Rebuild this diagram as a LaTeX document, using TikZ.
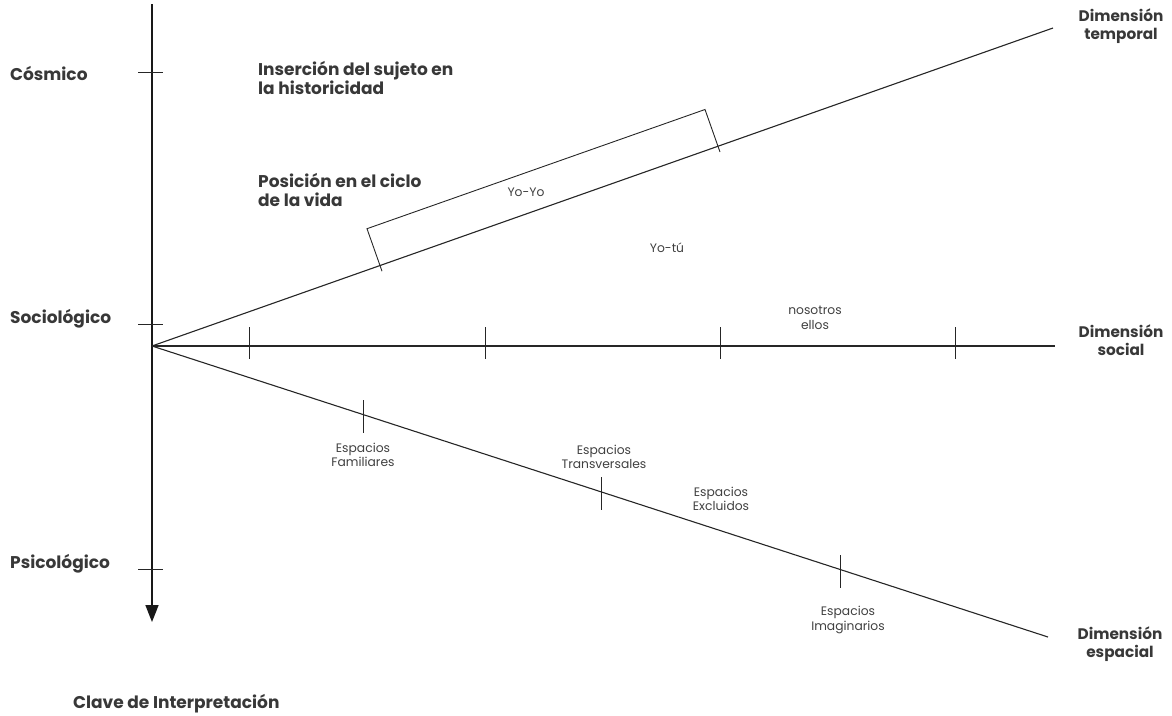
\documentclass[tikz,border=0pt]{standalone}
\usepackage{fontspec}
\setmainfont{Poppins}
\usetikzlibrary{arrows.meta}
\begin{document}
\begin{tikzpicture}[x=1pt,y=-1pt,
  axisln/.style={line width=1.1pt, draw=black!85},
  vaxis/.style={line width=1.7pt, draw=black!90},
  tickln/.style={line width=0.9pt, draw=black!85},
  biglbl/.style={font=\fontsize{17}{19.5}\selectfont\bfseries, text=black!78, align=left, inner sep=0pt},
  dimlbl/.style={font=\fontsize{15.3}{18}\selectfont\bfseries, text=black!78, align=center, inner sep=0pt},
  smalllbl/.style={font=\fontsize{12.3}{14.5}\selectfont, text=black!75, align=center, inner sep=0pt}]
\useasboundingbox (0,0) rectangle (1172,715);
% axes
\coordinate (O) at (152,346);
\coordinate (vtop) at (152,4);
\coordinate (vbot) at (152,622);
\coordinate (tend) at (1053,28);
\coordinate (send) at (1055,346);
\coordinate (eend) at (1048,637);
\draw[vaxis,-{Triangle[length=17pt,width=13pt]}] (vtop) -- (vbot);
\draw[axisln] (O) -- (tend);
\draw[axisln] (O) -- (send);
\draw[axisln] (O) -- (eend);
% vertical ticks
\coordinate (c1) at (138,72);  \coordinate (c2) at (163,72);
\coordinate (s1) at (138,324); \coordinate (s2) at (163,324);
\coordinate (p1) at (138,569); \coordinate (p2) at (163,569);
\draw[tickln] (c1) -- (c2);
\draw[tickln] (s1) -- (s2);
\draw[tickln] (p1) -- (p2);
% social ticks
\foreach \x [count=\i] in {249,485,720,955}{
  \coordinate (st\i a) at (\x,327);
  \coordinate (st\i b) at (\x,359);
  \draw[tickln] (st\i a) -- (st\i b);
}
% spatial ticks
\coordinate (e1a) at (363,400); \coordinate (e1b) at (363,433);
\coordinate (e2a) at (601,477); \coordinate (e2b) at (601,510);
\coordinate (e3a) at (840,555); \coordinate (e3b) at (840,588);
\draw[tickln] (e1a) -- (e1b);
\draw[tickln] (e2a) -- (e2b);
\draw[tickln] (e3a) -- (e3b);
% bracket on temporal line
\coordinate (b1) at (382,271.2);
\coordinate (b2) at (367,228.7);
\coordinate (b3) at (705,109.5);
\coordinate (b4) at (720,152);
\draw[tickln] (b1) -- (b2) -- (b3) -- (b4);
% labels
\node[biglbl, anchor=west] (cos) at (10,73) {Cósmico};
\node[biglbl, anchor=west] (soc) at (10,319) {Sociológico};
\node[biglbl, anchor=west] (psi) at (10,564) {Psicológico};
\node[biglbl, anchor=west] (ins) at (258,78) {Inserción del sujeto en\\la historicidad};
\node[biglbl, anchor=west] (pos) at (258,190) {Posición en el ciclo\\de la vida};
\node[biglbl, anchor=west] (clave) at (73,704) {Clave de Interpretación};
\node[dimlbl] (dt) at (1121,26) {Dimensión\\temporal};
\node[dimlbl] (ds) at (1121,340) {Dimensión\\social};
\node[dimlbl] (de) at (1120,644) {Dimensión\\espacial};
\node[smalllbl] (yoyo) at (526,192) {Yo-Yo};
\node[smalllbl] (yotu) at (667,248) {Yo-tú};
\node[smalllbl] (nos) at (815,318) {nosotros\\ellos};
\node[smalllbl] (fam) at (363,455) {Espacios\\Familiares};
\node[smalllbl] (tra) at (604,457) {Espacios\\Transversales};
\node[smalllbl] (exc) at (721,499) {Espacios\\Excluidos};
\node[smalllbl] (ima) at (848,620) {Espacios\\Imaginarios};
\end{tikzpicture}
\end{document}
